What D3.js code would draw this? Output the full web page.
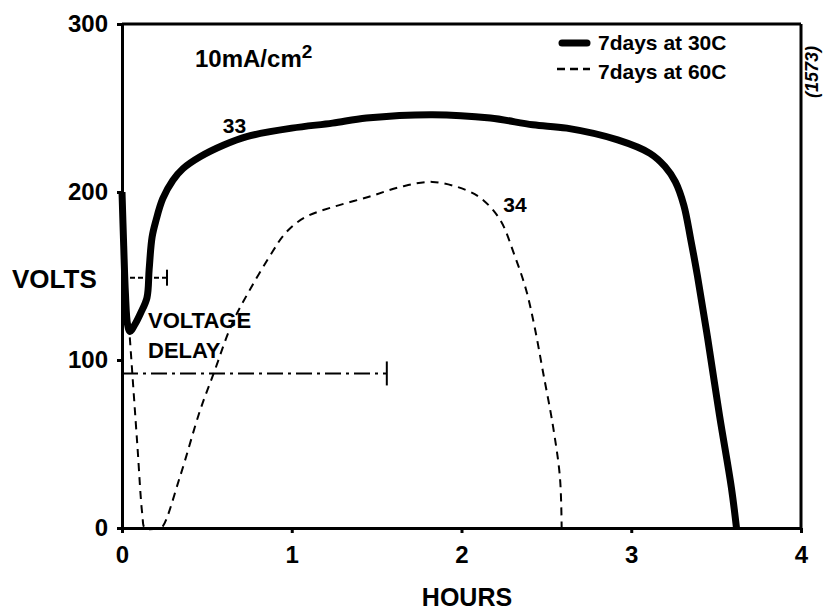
<!DOCTYPE html>
<html><head><meta charset="utf-8">
<script src="https://cdn.jsdelivr.net/npm/d3@7"></script>
<style>
body{margin:0;background:#fff}
text{font-family:"Liberation Sans",Arial,sans-serif;font-weight:bold;fill:#000}
</style>
</head><body>
<svg id="c" width="823" height="613"></svg>
<script>
// ---- data ----
const hours30 = [0, 0.01, 0.02, 0.033, 0.047, 0.075, 0.11, 0.147, 0.16, 0.177, 0.2, 0.24, 0.3, 0.36, 0.46, 0.6, 0.735, 1.0, 1.24, 1.44, 1.83, 2.17, 2.42, 2.62, 2.92, 3.11, 3.2, 3.26, 3.31, 3.35, 3.39, 3.45, 3.52, 3.59, 3.62];
const volts30 = [200, 168, 140, 121, 117, 121, 128, 137, 154, 173, 183, 196, 207, 214, 221, 228, 233, 238, 241, 244, 246, 244, 240, 238, 231, 223, 215, 206, 192, 172, 150, 113, 67, 24, 0];
const hours60 = [0, 0.047, 0.09, 0.12, 0.135, 0.22, 0.24, 0.34, 0.46, 0.54, 0.65, 0.76, 0.89, 0.95, 1.02, 1.1, 1.24, 1.45, 1.64, 1.83, 2.03, 2.13, 2.23, 2.31, 2.38, 2.43, 2.48, 2.54, 2.58, 2.59];
const volts60 = [180, 112, 50, 8, 0, 0, 1, 30, 70, 92, 122, 143, 165, 174, 181, 186, 191, 197, 203, 206, 201, 195, 183, 163, 142, 120, 93, 60, 30, 0];
const xTicks = [0, 1, 2, 3, 4];
const yTicks = [0, 100, 200, 300];
const seriesNames = ["7days at 30C", "7days at 60C"];
const delayLevels = [149, 92];     // volts
const delayEnds = [0.265, 1.56];   // hours
const curveLabels = ["33", "34"];
const curveLabelHours = [0.663, 2.315];
const curveLabelVolts = [235, 188];

// ---- layout ----
const svg = d3.select("#c");
const x = d3.scaleLinear().domain([0, 4]).range([122, 801]);
const y = d3.scaleLinear().domain([0, 300]).range([528, 24]);

// frame (top and right)
svg.append("line").attr("x1", x(0)).attr("x2", x(4)).attr("y1", y(300)).attr("y2", y(300))
  .attr("stroke", "#000").attr("stroke-width", 3);
svg.append("line").attr("x1", x(4)).attr("x2", x(4)).attr("y1", y(300)).attr("y2", y(0))
  .attr("stroke", "#000").attr("stroke-width", 3);

// axes
const yAx = svg.append("g").attr("transform", `translate(${x(0)},0)`)
  .call(d3.axisLeft(y).tickValues(yTicks).tickSize(5).tickSizeOuter(0).tickPadding(9).tickFormat(d3.format("d")));
const xAx = svg.append("g").attr("transform", `translate(0,${y(0)})`)
  .call(d3.axisBottom(x).tickValues(xTicks).tickSize(5).tickSizeOuter(0).tickPadding(13).tickFormat(d3.format("d")));
[yAx, xAx].forEach(g => {
  g.select(".domain").attr("stroke", "#000").attr("stroke-width", 3);
  g.selectAll(".tick line").attr("stroke", "#000").attr("stroke-width", 3);
  g.selectAll(".tick text").attr("font-size", 24).attr("font-family", '"Liberation Sans",Arial,sans-serif').attr("font-weight", "bold").attr("fill", "#000");
});

// delay brackets
const delayStyles = [{dash: "5,3"}, {dash: "16,5,3,5"}];
delayLevels.forEach((v, i) => {
  svg.append("line").attr("x1", x(0)).attr("x2", x(delayEnds[i])).attr("y1", y(v)).attr("y2", y(v))
    .attr("stroke", "#000").attr("stroke-width", 2).attr("stroke-dasharray", delayStyles[i].dash);
  const h = i === 0 ? 8 : 12;
  svg.append("line").attr("x1", x(delayEnds[i])).attr("x2", x(delayEnds[i]))
    .attr("y1", y(v) - h).attr("y2", y(v) + h).attr("stroke", "#000").attr("stroke-width", 2);
});

// curves
const line = d3.line().x(d => x(d[0])).y(d => y(d[1])).curve(d3.curveCatmullRom.alpha(0.5));
const d60 = hours60.map((h, i) => [h, volts60[i]]);
const d30 = hours30.map((h, i) => [h, volts30[i]]);
svg.append("path").attr("d", line(d60)).attr("fill", "none").attr("stroke", "#000")
  .attr("stroke-width", 2).attr("stroke-dasharray", "8,6");
svg.append("path").attr("d", line(d30)).attr("fill", "none").attr("stroke", "#000")
  .attr("stroke-width", 7).attr("stroke-linejoin", "round");

// curve labels
curveLabels.forEach((t, i) => {
  svg.append("text").attr("x", x(curveLabelHours[i])).attr("y", y(curveLabelVolts[i]))
    .attr("text-anchor", "middle").attr("font-size", 21).text(t);
});

// legend
svg.append("line").attr("x1", 562).attr("x2", 587).attr("y1", 43).attr("y2", 43)
  .attr("stroke", "#000").attr("stroke-width", 7).attr("stroke-linecap", "round");
svg.append("line").attr("x1", 557).attr("x2", 590).attr("y1", 69).attr("y2", 69)
  .attr("stroke", "#000").attr("stroke-width", 2.5).attr("stroke-dasharray", "8,5");
svg.append("text").attr("x", 598).attr("y", 50).attr("font-size", 21).text(seriesNames[0]);
svg.append("text").attr("x", 598).attr("y", 79).attr("font-size", 21).text(seriesNames[1]);

// annotations
const t1 = svg.append("text").attr("x", 195).attr("y", 67).attr("font-size", 24);
t1.append("tspan").text("10mA/cm");
t1.append("tspan").attr("dy", -9).attr("font-size", 19).text("2");

svg.append("text").attr("x", 12).attr("y", 288).attr("font-size", 26).text("VOLTS");
svg.append("text").attr("x", 467).attr("y", 606).attr("text-anchor", "middle").attr("font-size", 25).text("HOURS");
svg.append("text").attr("x", 148).attr("y", 328).attr("font-size", 22).text("VOLTAGE");
svg.append("text").attr("x", 148).attr("y", 358).attr("font-size", 22).text("DELAY");
svg.append("text").attr("transform", "translate(818,72) rotate(-90)").attr("text-anchor", "middle")
  .attr("font-size", 18).attr("font-style", "italic").text("(1573)");
</script>
</body></html>
